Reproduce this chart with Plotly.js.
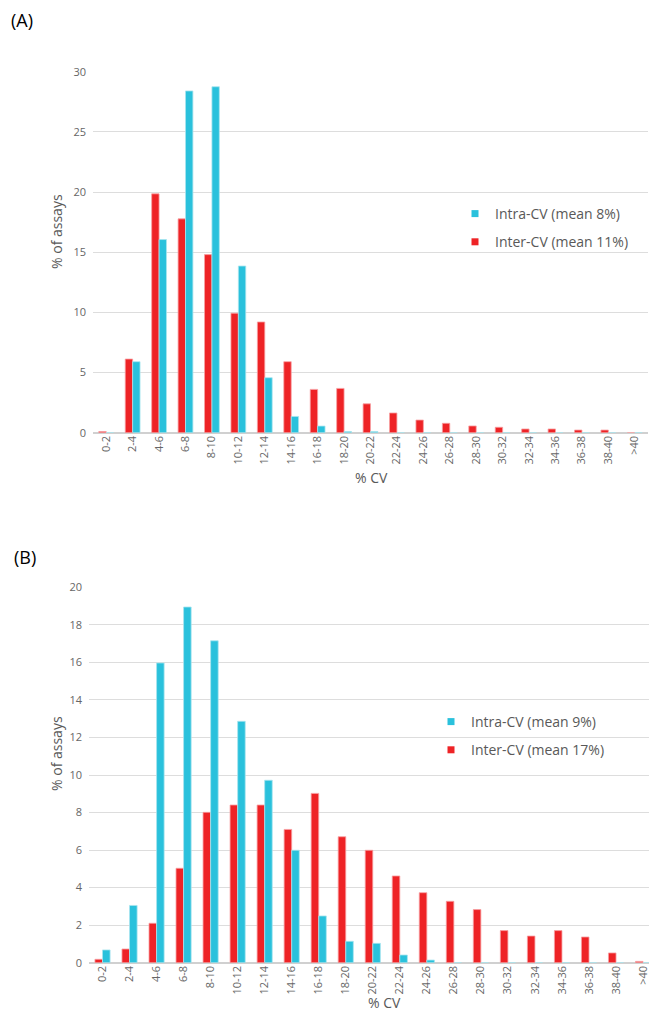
<!DOCTYPE html>
<html>
<head>
<meta charset="utf-8">
<script src="https://cdn.plot.ly/plotly-3.0.1.min.js"></script>
<style>html,body{margin:0;padding:0;background:#fff;} #chart{width:649px;height:1011px;}</style>
</head>
<body>
<div id="chart"></div>
<script>
const categories = ['0-2','2-4','4-6','6-8','8-10','10-12','12-14','14-16','16-18','18-20','20-22','22-24','24-26','26-28','28-30','30-32','32-34','34-36','36-38','38-40','>40'];

// Panel A
const intraA = [0, 5.9, 16.05, 28.4, 28.75, 13.85, 4.57, 1.35, 0.55, 0.1, 0.1, 0, 0, 0, 0, 0, 0, 0, 0, 0, 0];
const interA = [0.1, 6.12, 19.85, 17.77, 14.8, 9.93, 9.2, 5.9, 3.6, 3.68, 2.4, 1.64, 1.05, 0.78, 0.56, 0.45, 0.31, 0.31, 0.22, 0.22, 0];

// Panel B
const intraB = [0.68, 3.05, 15.97, 18.95, 17.15, 12.86, 9.72, 5.99, 2.49, 1.14, 1.03, 0.41, 0.14, 0, 0, 0, 0, 0, 0, 0, 0];
const interB = [0.18, 0.73, 2.1, 5.03, 8.01, 8.4, 8.4, 7.1, 9.02, 6.71, 5.99, 4.62, 3.73, 3.27, 2.83, 1.71, 1.42, 1.71, 1.37, 0.52, 0.07];

const legendNames = {
  intraA: 'Intra-CV (mean 8%)', interA: 'Inter-CV (mean 11%)',
  intraB: 'Intra-CV (mean 9%)', interB: 'Inter-CV (mean 17%)'
};

const RED = '#EE2326', BLUE = '#2AC1DC';
const RED_LINE = '#F8A0A2', BLUE_LINE = '#A8E4EF';
const W = 649, H = 1011;
const px = v => v / W, py = v => 1 - v / H;
const FONT = 'Open Sans, Noto Sans, sans-serif';

function bar(y, name, color, lineColor, xa, ya) {
  return {type:'bar', x: categories, y: y, name: name, xaxis: xa, yaxis: ya,
    marker:{color: color, line:{color: lineColor, width: 0.8}},
    showlegend:false, hoverinfo:'x+y'};
}
// legend-only entries (small square keys like the reference)
function key(name, color, xa, ya, leg, rank, group) {
  return {type:'scatter', mode:'markers', x:[null], y:[null], name: name, xaxis: xa, yaxis: ya,
    marker:{symbol:'square', size:7, color: color}, legend: leg, legendrank: rank, legendgroup: group,
    showlegend:true, hoverinfo:'skip'};
}

const data = [
  bar(interA, legendNames.interA, RED, RED_LINE, 'x', 'y'),
  bar(intraA, legendNames.intraA, BLUE, BLUE_LINE, 'x', 'y'),
  bar(interB, legendNames.interB, RED, RED_LINE, 'x2', 'y2'),
  bar(intraB, legendNames.intraB, BLUE, BLUE_LINE, 'x2', 'y2'),
  key(legendNames.intraA, BLUE, 'x', 'y', 'legend', 1, 'a1'),
  key(legendNames.interA, RED, 'x', 'y', 'legend', 2, 'a2'),
  key(legendNames.intraB, BLUE, 'x2', 'y2', 'legend2', 1, 'b1'),
  key(legendNames.interB, RED, 'x2', 'y2', 'legend2', 2, 'b2')
];

const tickFont = {family:FONT, size:11, color:'#666666'};
const titleFont = {family:FONT, size:14, color:'#595959'};

const xBase = {type:'category', tickangle:-90, tickfont:tickFont, showgrid:false, showline:false, zeroline:false, ticks:'', fixedrange:true};
const yBase = {tickfont:tickFont, gridcolor:'#DDDDDD', gridwidth:1, zeroline:true, zerolinecolor:'#D0D0D0', zerolinewidth:1.5, showline:false, ticks:'', ticklabelstandoff:6, fixedrange:true};

const legendBase = {font:{family:FONT, size:14, color:'#595959'}, bgcolor:'rgba(0,0,0,0)', traceorder:'grouped', tracegroupgap:7, xanchor:'left', yanchor:'top'};

const layout = {
  width: W, height: H,
  margin:{l:0, r:0, t:0, b:0},
  paper_bgcolor:'#ffffff', plot_bgcolor:'#ffffff',
  barmode:'group', bargap:0.44, bargroupgap:0,
  font:{family:FONT},
  xaxis: Object.assign({}, xBase, {domain:[px(93), px(648)], anchor:'y', range:[-0.5, 20.5]}),
  yaxis: Object.assign({}, yBase, {domain:[py(432.7), py(71.7)], anchor:'x', range:[0, 30], dtick:5}),
  xaxis2: Object.assign({}, xBase, {domain:[px(89), 1], anchor:'y2', range:[-0.5, 20.22]}),
  yaxis2: Object.assign({}, yBase, {domain:[py(962.7), py(587.3)], anchor:'x2', range:[0, 20], dtick:2}),
  legend: Object.assign({}, legendBase, {x:px(455), y:py(198)}),
  legend2: Object.assign({}, legendBase, {x:px(431), y:py(706)}),
  annotations:[
    {text:'(A)', xref:'paper', yref:'paper', x:px(9), y:py(20), xanchor:'left', yanchor:'middle', showarrow:false, font:{family:FONT, size:18, color:'#000000'}},
    {text:'(B)', xref:'paper', yref:'paper', x:px(12), y:py(557), xanchor:'left', yanchor:'middle', showarrow:false, font:{family:FONT, size:18, color:'#000000'}},
    {text:'% of assays', xref:'paper', yref:'paper', x:px(56), y:py(232), xanchor:'center', yanchor:'middle', textangle:-90, showarrow:false, font:titleFont},
    {text:'% of assays', xref:'paper', yref:'paper', x:px(56), y:py(754), xanchor:'center', yanchor:'middle', textangle:-90, showarrow:false, font:titleFont},
    {text:'% CV', xref:'paper', yref:'paper', x:px(371), y:py(478), xanchor:'center', yanchor:'middle', showarrow:false, font:titleFont},
    {text:'% CV', xref:'paper', yref:'paper', x:px(384), y:py(1002), xanchor:'center', yanchor:'middle', showarrow:false, font:titleFont}
  ]
};

Plotly.newPlot('chart', data, layout, {displayModeBar:false});
</script>
</body>
</html>
